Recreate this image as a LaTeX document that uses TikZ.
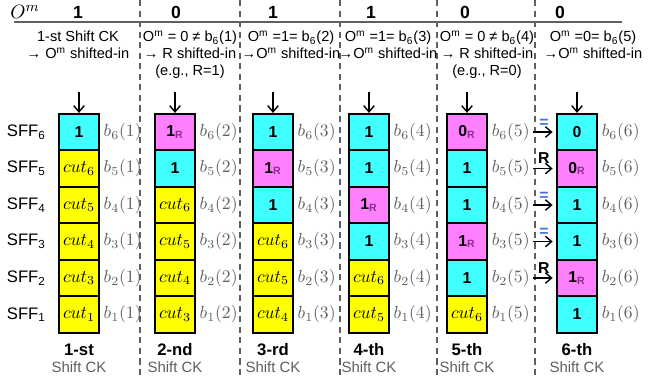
\documentclass[tikz,border=0pt]{standalone}
\usepackage[no-math]{fontspec}
\setmainfont{Liberation Sans}
\usepackage{tikz}
\usetikzlibrary{arrows.meta,positioning}
\definecolor{cyanc}{RGB}{64,255,255}
\definecolor{pinkc}{RGB}{255,128,255}
\definecolor{yellc}{RGB}{255,255,0}
\definecolor{rsubc}{RGB}{150,40,150}
\definecolor{eqc}{RGB}{70,110,230}
\definecolor{grey}{RGB}{95,95,95}
\tikzset{
  sff/.style={draw, line width=1pt, minimum width=0.8cm, minimum height=0.73cm, inner sep=0pt, font=\fontsize{9}{10}\selectfont\bfseries},
  cy/.style={sff, fill=cyanc}, mg/.style={sff, fill=pinkc}, yl/.style={sff, fill=yellc, font=\fontsize{10}{11}\selectfont},
  blab/.style={text=grey, inner sep=1pt, font=\fontsize{10}{11}\selectfont},
  shin/.style={-{Straight Barb[length=3.5pt,width=6pt]}, line width=0.8pt},
  note/.style={align=center, anchor=north, inner sep=0pt, font=\fontsize{8.3}{9.5}\selectfont},
}
\newcommand{\rsub}[1]{#1\textsubscript{\color{rsubc}R}}
\newcommand{\Om}{O\textsuperscript{m}}
\begin{document}
\begin{tikzpicture}[x=0.02cm, y=-0.02cm]
  \useasboundingbox (0,0) rectangle (658,380);
  % header
  \node (om) at (25,12) {\fontsize{11}{12}\selectfont$O^m$};
  \foreach \n/\x/\v in {1/78/1, 2/176/0, 3/273/1, 4/371/1, 5/465/0, 6/560/0} \node[font=\fontsize{10}{11}\selectfont\bfseries] (om\n) at (\x,12) {\v};
  \draw[grey, line width=1.2pt] (14,22) -- (622,22);
  \foreach \x in {140,240,340,437,535} \draw[grey, dashed, line width=0.8pt, dash pattern=on 3.5pt off 2.5pt] (\x,0) -- (\x,378);
  \node[note] (n1) at (78,31) {1-st Shift CK\\→ \Om\ shifted-in};
  \node[note] (n2) at (190,31) {\Om\ = 0 ≠ b\textsubscript{6}(1)\\→ R shifted-in\\(e.g., R=1)};
  \node[note] (n3) at (291,31) {\Om\ =1= b\textsubscript{6}(2)\\→\Om\ shifted-in};
  \node[note] (n4) at (388,31) {\Om\ =1= b\textsubscript{6}(3)\\→\Om\ shifted-in};
  \node[note] (n5) at (487,31) {\Om\ = 0 ≠ b\textsubscript{6}(4)\\→ R shifted-in\\(e.g., R=0)};
  \node[note] (n6) at (593,31) {\Om\ =0= b\textsubscript{6}(5)\\→\Om\ shifted-in};
  % shift flip-flops
  \foreach \i in {0,...,5} { \pgfmathtruncatemacro{\k}{6-\i} \node[anchor=east, font=\fontsize{9.5}{10}\selectfont] (sff\k) at (52,132+36.5*\i) {SFF\textsubscript{\k}}; }
  \foreach \s/\t [count=\i from 0] in {cy/1, yl/$cut_6$, yl/$cut_5$, yl/$cut_4$, yl/$cut_3$, yl/$cut_1$} { \pgfmathtruncatemacro{\k}{6-\i} \node[\s] (c1s\k) at (79,132+36.5*\i) {\t}; \node[blab, right=1pt of c1s\k] (l1s\k) {$b_{\k}(1)$}; }
  \foreach \s/\t [count=\i from 0] in {mg/\rsub{1}, cy/1, yl/$cut_6$, yl/$cut_5$, yl/$cut_4$, yl/$cut_3$} { \pgfmathtruncatemacro{\k}{6-\i} \node[\s] (c2s\k) at (175,132+36.5*\i) {\t}; \node[blab, right=1pt of c2s\k] (l2s\k) {$b_{\k}(2)$}; }
  \foreach \s/\t [count=\i from 0] in {cy/1, mg/\rsub{1}, cy/1, yl/$cut_6$, yl/$cut_5$, yl/$cut_4$} { \pgfmathtruncatemacro{\k}{6-\i} \node[\s] (c3s\k) at (273,132+36.5*\i) {\t}; \node[blab, right=1pt of c3s\k] (l3s\k) {$b_{\k}(3)$}; }
  \foreach \s/\t [count=\i from 0] in {cy/1, cy/1, mg/\rsub{1}, cy/1, yl/$cut_6$, yl/$cut_5$} { \pgfmathtruncatemacro{\k}{6-\i} \node[\s] (c4s\k) at (369,132+36.5*\i) {\t}; \node[blab, right=1pt of c4s\k] (l4s\k) {$b_{\k}(4)$}; }
  \foreach \s/\t [count=\i from 0] in {mg/\rsub{0}, cy/1, cy/1, mg/\rsub{1}, cy/1, yl/$cut_6$} { \pgfmathtruncatemacro{\k}{6-\i} \node[\s] (c5s\k) at (467,132+36.5*\i) {\t}; \node[blab, right=1pt of c5s\k] (l5s\k) {$b_{\k}(5)$}; }
  \foreach \s/\t [count=\i from 0] in {cy/0, mg/\rsub{0}, cy/1, cy/1, mg/\rsub{1}, cy/1} { \pgfmathtruncatemacro{\k}{6-\i} \node[\s] (c6s\k) at (577,132+36.5*\i) {\t}; \node[blab, right=1pt of c6s\k] (l6s\k) {$b_{\k}(6)$}; }
  % shift-in arrows and clock labels
  \foreach \col/\x/\o in {1/79/st, 2/175/nd, 3/273/rd, 4/369/th, 5/467/th, 6/577/th} {
    \coordinate (in\col) at (\x,92); \draw[shin] (in\col) -- (c\col s6.north);
    \node[font=\fontsize{9.5}{10}\selectfont\bfseries] (ck\col) at (\x,350) {\col-\o};
    \node[grey, font=\fontsize{8.5}{9}\selectfont] (sck\col) at (\x,367) {Shift CK};
  }
  \foreach \k/\tc/\t in {6/eqc/=, 5/black/R, 4/eqc/=, 3/eqc/=, 2/black/R} \draw[shin, shorten <=1pt, shorten >=2pt] (l5s\k.east) -- node[above=-1pt, text=\tc, font=\fontsize{9}{10}\selectfont\bfseries] (m\k) {\t} (c6s\k.west);
\end{tikzpicture}
\end{document}
